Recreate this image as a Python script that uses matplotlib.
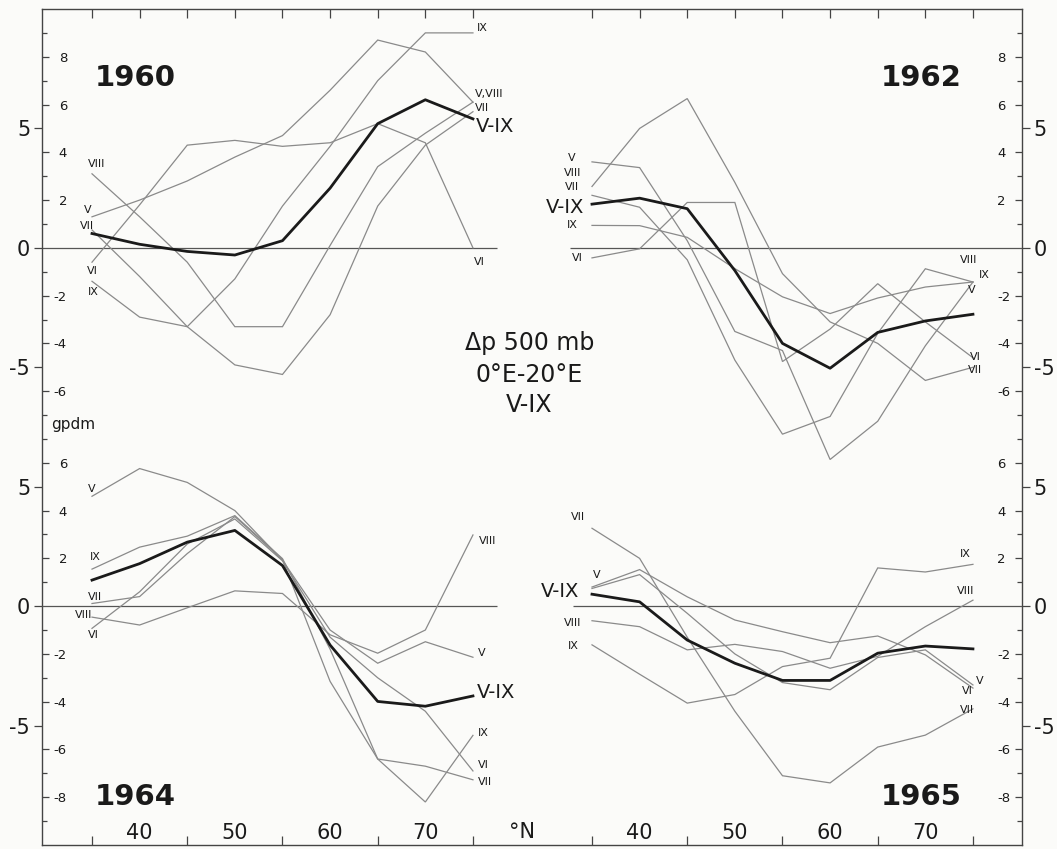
import matplotlib.pyplot as plt

plt.rcParams['font.family'] = ['DejaVu Sans']
plt.rcParams['axes.unicode_minus'] = False

LAT = [35, 40, 45, 50, 55, 60, 65, 70, 75]

# 1960 (top left)
v_1960 = [1.3, 2.0, 2.8, 3.8, 4.7, 6.6, 8.7, 8.2, 6.1]
vi_1960 = [-0.6, 1.8, 4.3, 4.5, 4.25, 4.4, 5.2, 4.4, 0.0]
vii_1960 = [0.75, -1.2, -3.3, -4.9, -5.3, -2.8, 1.75, 4.3, 5.7]
viii_1960 = [3.1, 1.3, -0.6, -3.3, -3.3, 0.1, 3.4, 4.8, 6.1]
ix_1960 = [-1.4, -2.9, -3.3, -1.3, 1.75, 4.25, 7.0, 9.0, 9.0]
mean_1960 = [0.6, 0.15, -0.15, -0.3, 0.3, 2.5, 5.2, 6.2, 5.4]

# 1962 (top right)
v_1962 = [3.6, 3.36, 0.3, -3.5, -4.3, -8.86, -7.26, -4.1, -1.43]
vi_1962 = [-0.42, -0.04, 1.9, 1.9, -4.76, -3.4, -1.5, -3.1, -4.6]
vii_1962 = [2.57, 5.0, 6.25, 2.74, -1.08, -3.1, -4.0, -5.55, -5.0]
viii_1962 = [2.2, 1.7, -0.5, -4.7, -7.8, -7.06, -3.58, -0.875, -1.43]
ix_1962 = [0.94, 0.93, 0.44, -0.87, -2.05, -2.75, -2.1, -1.64, -1.43]
mean_1962 = [1.83, 2.08, 1.64, -0.95, -4.0, -5.04, -3.54, -3.06, -2.78]

# 1964 (bottom left)
v_1964 = [4.6, 5.76, 5.18, 4.0, 1.92, -1.0, -2.39, -1.49, -2.14]
vi_1964 = [-0.93, 0.6, 2.6, 3.65, 1.9, -1.3, -3.0, -4.4, -6.9]
vii_1964 = [0.11, 0.4, 2.2, 3.75, 1.95, -3.15, -6.4, -6.7, -7.27]
viii_1964 = [-0.46, -0.79, -0.07, 0.64, 0.53, -1.2, -1.97, -1.0, 2.98]
ix_1964 = [1.55, 2.47, 2.93, 3.79, 1.99, -1.8, -6.4, -8.2, -5.41]
mean_1964 = [1.09, 1.78, 2.68, 3.17, 1.7, -1.63, -3.99, -4.19, -3.76]

# 1965 (bottom right)
v_1965 = [0.8, 1.53, 0.39, -0.58, -1.07, -1.53, -1.25, -2.04, -3.43]
vi_1965 = [0.74, 1.32, -0.3, -2.0, -3.2, -3.5, -2.15, -1.83, -3.3]
vii_1965 = [3.26, 2.0, -1.3, -4.4, -7.1, -7.4, -5.9, -5.4, -4.3]
viii_1965 = [-0.61, -0.86, -1.83, -1.6, -1.9, -2.6, -2.1, -0.86, 0.25]
ix_1965 = [-1.62, -2.85, -4.06, -3.7, -2.53, -2.18, 1.6, 1.43, 1.75]
mean_1965 = [0.5, 0.18, -1.42, -2.39, -3.11, -3.11, -1.97, -1.67, -1.79]

# curve labels: (text, lat, value, big?, ha)
lab_1960 = [('VIII', 35.5, 3.5, 0, 'center'), ('V', 34.6, 1.6, 0, 'center'),
            ('VII', 34.5, 0.9, 0, 'center'), ('VI', 35.0, -0.95, 0, 'center'),
            ('IX', 35.1, -1.85, 0, 'center'),
            ('IX', 75.4, 9.2, 0, 'left'), ('V,VIII', 75.2, 6.45, 0, 'left'),
            ('VII', 75.2, 5.85, 0, 'left'), ('V-IX', 75.3, 5.1, 1, 'left'),
            ('VI', 75.1, -0.6, 0, 'left')]
lab_1962 = [('V', 32.9, 3.75, 0, 'center'), ('VIII', 33.0, 3.13, 0, 'center'),
            ('VII', 32.9, 2.55, 0, 'center'), ('V-IX', 32.2, 1.7, 1, 'center'),
            ('IX', 32.9, 0.96, 0, 'center'), ('VI', 33.5, -0.42, 0, 'center'),
            ('VIII', 74.5, -0.5, 0, 'center'), ('IX', 76.2, -1.13, 0, 'center'),
            ('V', 74.9, -1.75, 0, 'center'), ('VI', 75.2, -4.55, 0, 'center'),
            ('VII', 75.2, -5.1, 0, 'center')]
lab_1964 = [('V', 35.0, 4.9, 0, 'center'), ('IX', 35.3, 2.07, 0, 'center'),
            ('VII', 35.3, 0.4, 0, 'center'), ('VIII', 34.1, -0.39, 0, 'center'),
            ('VI', 35.1, -1.22, 0, 'center'),
            ('VIII', 75.6, 2.74, 0, 'left'), ('V', 75.5, -1.97, 0, 'left'),
            ('V-IX', 75.4, -3.6, 1, 'left'), ('IX', 75.5, -5.3, 0, 'left'),
            ('VI', 75.5, -6.67, 0, 'left'), ('VII', 75.5, -7.38, 0, 'left')]
lab_1965 = [('VII', 33.5, 3.74, 0, 'center'), ('V', 35.5, 1.3, 0, 'center'),
            ('V-IX', 31.6, 0.6, 1, 'center'), ('VIII', 33.0, -0.72, 0, 'center'),
            ('IX', 33.0, -1.68, 0, 'center'),
            ('IX', 74.2, 2.2, 0, 'center'), ('VIII', 74.2, 0.65, 0, 'center'),
            ('V', 75.7, -3.15, 0, 'center'), ('VI', 74.4, -3.55, 0, 'center'),
            ('VII', 74.4, -4.35, 0, 'center')]

GREY = '#8a8a8a'
INK = '#1a1a1a'
EDGE = '#444444'

fig = plt.figure(figsize=(10.57, 8.49), dpi=100)
fig.patch.set_facecolor('#fbfbf9')
RECT = [42 / 1057, 4 / 849, 980 / 1057, 836 / 849]

XL = (29.75, 132.65)
XR = (XL[0] - 52.5, XL[1] - 52.5)
YT = (-25, 10)
YB = (-10, 25)


def make_axes(xlim, ylim):
    ax = fig.add_axes(RECT)
    ax.set_xlim(*xlim)
    ax.set_ylim(*ylim)
    ax.patch.set_visible(False)
    for s in ax.spines.values():
        s.set_visible(False)
    ax.tick_params(which='both', bottom=False, top=False, left=False, right=False,
                   labelbottom=False, labelleft=False, colors=INK)
    return ax


ax_tl = make_axes(XL, YT)
ax_tr = make_axes(XR, YT)
ax_bl = make_axes(XL, YB)
ax_br = make_axes(XR, YB)

for s in ax_tl.spines.values():
    s.set_visible(True)
    s.set_color(EDGE)
    s.set_linewidth(1.0)

panels = [
    (ax_tl, [v_1960, vi_1960, vii_1960, viii_1960, ix_1960], mean_1960, lab_1960,
     '1960', (39.5, 7.1), (XL[0], 77.5)),
    (ax_tr, [v_1962, vi_1962, vii_1962, viii_1962, ix_1962], mean_1962, lab_1962,
     '1962', (69.6, 7.1), (32.7, XR[1])),
    (ax_bl, [v_1964, vi_1964, vii_1964, viii_1964, ix_1964], mean_1964, lab_1964,
     '1964', (39.5, -8.0), (XL[0], 77.5)),
    (ax_br, [v_1965, vi_1965, vii_1965, viii_1965, ix_1965], mean_1965, lab_1965,
     '1965', (69.6, -8.0), (33.0, XR[1])),
]

for ax, months, mean, labels, year, ypos, zspan in panels:
    ax.hlines(0, zspan[0], zspan[1], color='#555555', lw=0.9)
    for vals in months:
        ax.plot(LAT, vals, color=GREY, lw=0.9, solid_joinstyle='miter')
    ax.plot(LAT, mean, color=INK, lw=2.0)
    for txt, x, y, big, ha in labels:
        ax.text(x, y, txt, ha=ha, va='center', color=INK,
                fontsize=14 if big else 8)
    ax.text(ypos[0], ypos[1], year, ha='center', va='center', fontsize=21,
            fontweight='bold', color=INK)

# top ticks every 5 degrees in both halves
for ax in (ax_tl, ax_tr):
    ax.set_xticks(LAT)
    ax.tick_params(axis='x', top=True, direction='in', length=6.5, width=0.9,
                   color=EDGE)

# bottom: ticks at odd fives, labels at tens inside the frame
for ax in (ax_bl, ax_br):
    ax.set_xticks([40, 50, 60, 70], labels=['40', '50', '60', '70'])
    ax.set_xticks([35, 45, 55, 65, 75], minor=True)
    ax.tick_params(axis='x', which='major', bottom=True, length=0,
                   labelbottom=True, pad=-16, labelsize=15, labelcolor=INK)
    ax.tick_params(axis='x', which='minor', bottom=True, direction='in',
                   length=6.5, width=0.9, color=EDGE)
ax_bl.text(80.1, 0.016, '°N', transform=ax_bl.get_xaxis_transform(),
           ha='center', va='center', fontsize=15, color=INK)

# y axes: big labels outside, small labels inside
small_top = [8, 6, 4, 2, -2, -4, -6]
minor_top = [9, 7, 3, 1, -1, -3, -7]
small_bot = [6, 4, 2, -2, -4, -6, -8]
minor_bot = [7, 3, 1, -1, -3, -7, -9]

for ax, side, small, minor in [(ax_tl, 'left', small_top, minor_top),
                               (ax_tr, 'right', small_top, minor_top),
                               (ax_bl, 'left', small_bot, minor_bot),
                               (ax_br, 'right', small_bot, minor_bot)]:
    ax.set_yticks([5, 0, -5], labels=['5', '0', '-5'])
    if side == 'left':
        ax.tick_params(axis='y', left=True, labelleft=True)
    else:
        ax.tick_params(axis='y', right=True, labelright=True)
    ax.tick_params(axis='y', direction='out', length=5.5, width=0.9, color=EDGE,
                   labelsize=15, pad=3, labelcolor=INK)
    sec = ax.secondary_yaxis(side)
    sec.spines[side].set_visible(False)
    sec.set_yticks(small, labels=[str(v) for v in small])
    sec.set_yticks(minor, minor=True)
    sec.tick_params(which='both', direction='in', color=EDGE, width=0.9)
    sec.tick_params(which='major', length=5, pad=-18, labelsize=9.5,
                    labelcolor=INK)
    sec.tick_params(which='minor', length=3.5)

ax_tl.text(33.0, -7.4, 'gpdm', ha='center', va='center', fontsize=11, color=INK)

fig.text(0.501, 1 - 343 / 849, 'Δp 500 mb', ha='center', va='center',
         fontsize=17, color=INK)
fig.text(0.501, 1 - 375 / 849, '0°E-20°E', ha='center', va='center',
         fontsize=17, color=INK)
fig.text(0.501, 1 - 405 / 849, 'V-IX', ha='center', va='center',
         fontsize=17, color=INK)

fig.savefig('out.png', dpi=100, facecolor=fig.get_facecolor())
